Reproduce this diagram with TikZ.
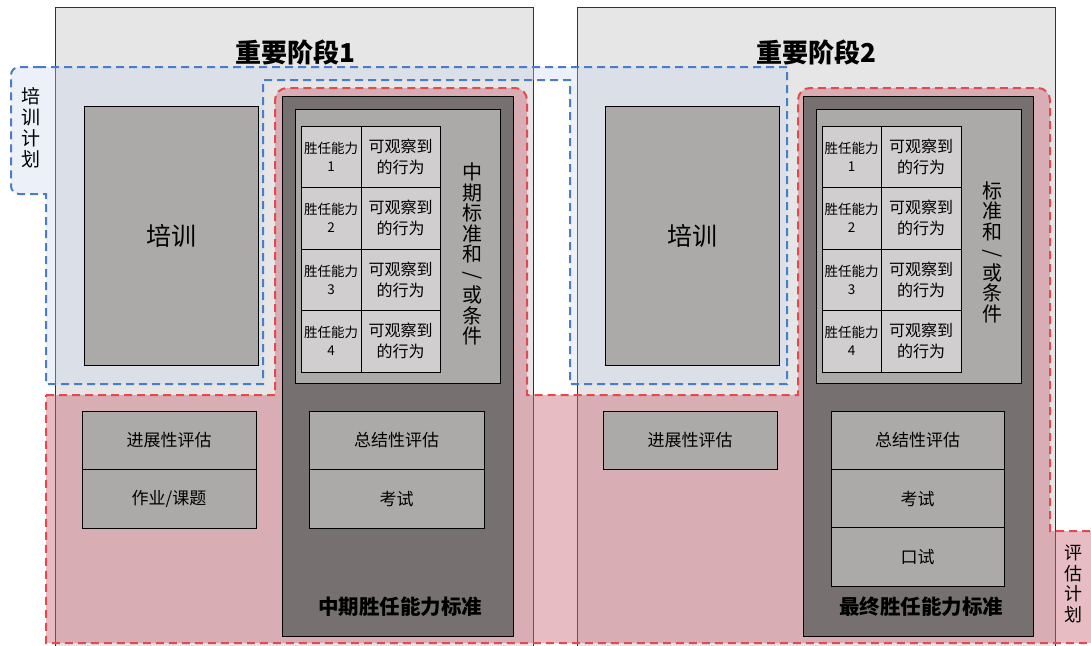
\documentclass[tikz,border=0pt]{standalone}
\usepackage{fontspec}
\setmainfont{Noto Sans CJK SC}
\definecolor{cStage}{HTML}{E6E6E6}
\definecolor{cMid}{HTML}{ABAAA9}
\definecolor{cDark}{HTML}{767170}
\definecolor{cCell}{HTML}{D0CECF}
\definecolor{cBlueLine}{HTML}{4A7DC4}
\definecolor{cBlueFill}{HTML}{C5D3EE}
\definecolor{cRedLine}{HTML}{E34A4F}
\definecolor{cRedFill}{HTML}{C96B78}
\begin{document}
\begin{tikzpicture}[x=1pt,y=-1pt,
  stagebox/.style={draw=black!80, line width=0.8pt, fill=cStage, minimum width=478pt, minimum height=643pt, inner sep=0pt},
  stagetitle/.style={font=\bfseries\fontsize{26}{30}\selectfont},
  midbox/.style={draw=black, line width=1pt, fill=cMid, inner sep=0pt, align=center, font=\fontsize{17}{20}\selectfont},
  trainbox/.style={midbox, minimum width=174pt, minimum height=259pt, font=\fontsize{25}{29}\selectfont},
  darkbox/.style={draw=black, line width=1pt, fill=cDark, inner sep=0pt, minimum width=231pt, minimum height=540pt},
  innerbox/.style={draw=black, line width=1pt, fill=cMid, inner sep=0pt, minimum width=205pt, minimum height=274pt},
  cellbox/.style={draw=black, line width=1pt, fill=cCell, inner sep=0pt, align=center, minimum height=61.5pt},
  compcell/.style={cellbox, font=\fontsize{13.5}{18}\selectfont},
  behcell/.style={cellbox, font=\fontsize{16}{21}\selectfont},
  evalbox/.style={midbox, minimum width=174pt, minimum height=58.5pt},
  vlabel/.style={align=center, inner sep=0pt, font=\fontsize{20}{20.5}\selectfont},
  sidelabel/.style={align=center, inner sep=0pt, font=\fontsize{19}{21}\selectfont},
  stdlabel/.style={inner sep=0pt, font=\bfseries\fontsize{20.5}{24}\selectfont},
  blueplan/.style={draw=cBlueLine, line width=2pt, dash pattern=on 8pt off 5pt, fill=cBlueFill, fill opacity=0.35},
  redplan/.style={draw=cRedLine, line width=2pt, dash pattern=on 8pt off 5pt, fill=cRedFill, fill opacity=0.45}
]
\useasboundingbox (0,0) rectangle (1091,645);
\begin{scope}
\clip (0,0) rectangle (1091,645);
% stages
\node[stagebox] (s1) at (294,328.5) {};
\node[stagebox] (s2) at (816,328.5) {};
\node[stagetitle] (s1t) at (295,52) {重要阶段1};
\node[stagetitle] (s2t) at (816,52) {重要阶段2};
% training plan region
\path[blueplan] (30,67) -- (787,67) -- (787,384) -- (570,384) -- (570,80) -- (263,80) -- (263,384) -- (46,384) -- (46,194) [rounded corners=8pt] -- (11,194) -- (11,67) -- cycle;
% evaluation plan region
\path[redplan] (46,395) -- (275,395) [rounded corners=12pt] -- (275,88) -- (527,88) [sharp corners] -- (527,395) -- (798,395) [rounded corners=12pt] -- (798,88) -- (1050,88) [sharp corners] -- (1050,531) -- (1100,531) -- (1100,643) -- (46,643) -- cycle;
\end{scope}
\node[sidelabel] (tp) at (31,128) {培\\训\\计\\划};
\node[sidelabel, font=\fontsize{18}{20.5}\selectfont] (ep) at (1073,584) {评\\估\\计\\划};
% training boxes
\node[trainbox] (tr1) at (171,235.5) {培训};
\node[trainbox] (tr2) at (692,235.5) {培训};
% dark standard boxes
\node[darkbox] (d1) at (397.5,366) {};
\node[darkbox, minimum width=230pt] (d2) at (918,366) {};
\node[innerbox] (i1) at (397.5,246) {};
\node[innerbox] (i2) at (918.5,246) {};
% tables
\foreach \i/\yy in {1/156.75,2/218.25,3/279.75,4/341.25}{
  \node[compcell, minimum width=60pt] (ca\i) at (331,\yy) {胜任能力\\\i};
  \node[behcell, minimum width=79pt] (ba\i) at (400.5,\yy) {可观察到\\的行为};
  \node[compcell, minimum width=59pt] (cb\i) at (851.5,\yy) {胜任能力\\\i};
  \node[behcell, minimum width=80pt] (bb\i) at (921,\yy) {可观察到\\的行为};
}
\node[vlabel] (v1) at (472,254) {中\\期\\标\\准\\和\\\rotatebox[origin=c]{90}{/}\\或\\条\\件};
\node[vlabel] (v2) at (992,252) {标\\准\\和\\\rotatebox[origin=c]{90}{/}\\或\\条\\件};
% evaluation boxes
\node[evalbox] (p1) at (169,440.5) {进展性评估};
\node[evalbox] (h1) at (169,499) {作业/课题};
\node[evalbox, minimum width=175pt] (m1) at (396.5,440.5) {总结性评估};
\node[evalbox, minimum width=175pt] (e1) at (396.5,499) {考试};
\node[evalbox] (p2) at (690,440.5) {进展性评估};
\node[evalbox, minimum width=173pt] (m2) at (917.5,440.5) {总结性评估};
\node[evalbox, minimum width=173pt] (e2) at (917.5,499) {考试};
\node[evalbox, minimum width=173pt] (o2) at (917.5,557) {口试};
\node[stdlabel] (l1) at (400,607) {中期胜任能力标准};
\node[stdlabel] (l2) at (921,607) {最终胜任能力标准};
\end{tikzpicture}
\end{document}
